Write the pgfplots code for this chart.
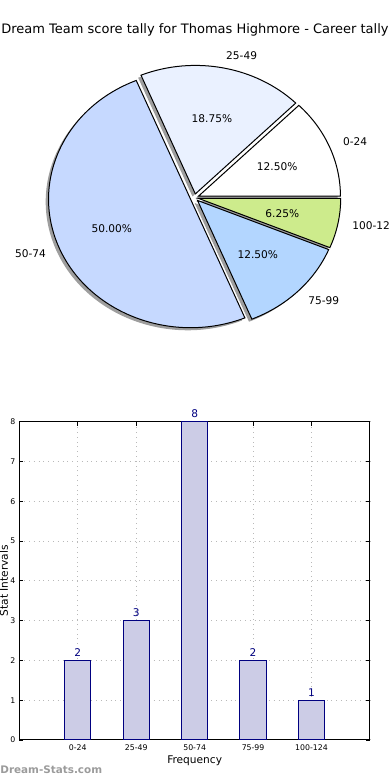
\documentclass[border=0pt]{standalone}
\usepackage{pgfplots}
\pgfplotsset{compat=1.18}
\usepackage{fontspec}
\setmainfont{DejaVu Sans}
\definecolor{sA}{RGB}{255,255,255}
\definecolor{sB}{RGB}{234,241,255}
\definecolor{sC}{RGB}{198,217,255}
\definecolor{sD}{RGB}{179,214,255}
\definecolor{sE}{RGB}{205,235,140}
\definecolor{barfill}{RGB}{204,204,230}
\definecolor{baredge}{RGB}{0,0,128}
\definecolor{wm}{RGB}{155,155,155}
\newcommand\lbl{\fontsize{5.3}{6.3}\selectfont}
\newcommand\tck{\fontsize{3.9}{4.7}\selectfont}
% pie geometry (pt): centre in pixel coords (194.5,197.7), radii 71pt x 64.25pt, explode 0.03, shadow -0.02
% slice: start count, count (of 16), colour
\newcommand\pieshadow[2]{%
  \fill[black!38, shift={(axis cs:194.5,197.7)}, shift={(-1.42pt,-1.29pt)}]
    ({2.13pt*cos(22.5*(#1+#2/2))},{1.93pt*sin(22.5*(#1+#2/2))})
    -- ++({71pt*cos(22.5*#1)},{64.25pt*sin(22.5*#1)})
    arc[start angle={22.5*#1}, end angle={22.5*(#1+#2)}, x radius=71pt, y radius=64.25pt] -- cycle;}
\newcommand\pieslice[3]{%
  \filldraw[fill=#3, draw=black, line width=0.5pt, line join=miter, shift={(axis cs:194.5,197.7)}]
    ({2.13pt*cos(22.5*(#1+#2/2))},{1.93pt*sin(22.5*(#1+#2/2))})
    -- ++({71pt*cos(22.5*#1)},{64.25pt*sin(22.5*#1)})
    arc[start angle={22.5*#1}, end angle={22.5*(#1+#2)}, x radius=71pt, y radius=64.25pt] -- cycle;}
% labels: start, count, label, pct, anchor
\newcommand\pielabel[5]{%
  \node[anchor=#5, font=\lbl, inner sep=0pt, shift={(axis cs:194.5,197.7)}]
    at ({(2.13pt+78.1pt)*cos(22.5*(#1+#2/2))},{(1.93pt+70.675pt)*sin(22.5*(#1+#2/2))}) {#3};
  \node[anchor=center, font=\lbl, inner sep=0pt, shift={(axis cs:194.5,197.7)}]
    at ({(2.13pt+42.6pt)*cos(22.5*(#1+#2/2))},{(1.93pt+38.55pt)*sin(22.5*(#1+#2/2))}) {#4};}
\begin{document}
\begin{tikzpicture}
\useasboundingbox (0,0) rectangle (195pt,390pt);
\begin{axis}[at={(0pt,0pt)}, anchor=south west, scale only axis,
  width=195pt, height=390pt, xmin=0, xmax=390, ymin=0, ymax=780,
  y dir=reverse, hide axis, clip=false]
  \addplot[draw=none] coordinates {(0,0) (390,780)};
  \node[font=\fontsize{6.5}{7.7}\selectfont, anchor=center] at (axis cs:195,30)
    {Dream Team score tally for Thomas Highmore - Career tally};
  % shadows (counts: 2,3,8,2,1 of 16)
  \pieshadow{0}{2}
  \pieshadow{2}{3}
  \pieshadow{5}{8}
  \pieshadow{13}{2}
  \pieshadow{15}{1}
  % wedges
  \pieslice{0}{2}{sA}
  \pieslice{2}{3}{sB}
  \pieslice{5}{8}{sC}
  \pieslice{13}{2}{sD}
  \pieslice{15}{1}{sE}
  \pielabel{0}{2}{0-24}{12.50\%}{west}
  \pielabel{2}{3}{25-49}{18.75\%}{west}
  \pielabel{5}{8}{50-74}{50.00\%}{east}
  \pielabel{13}{2}{75-99}{12.50\%}{west}
  \pielabel{15}{1}{100-124}{6.25\%}{west}
  \node[font=\fontsize{5.2}{6.2}\selectfont\bfseries, text=wm, anchor=west, inner sep=0pt] at (axis cs:0,770) {Dream-Stats.com};
\end{axis}
\begin{axis}[at={(9.65pt,20pt)}, anchor=south west, scale only axis,
  width=175.35pt, height=159.15pt,
  xmin=-1, xmax=5, ymin=0, ymax=8,
  xtick={0,1,2,3,4}, xticklabels={0-24,25-49,50-74,75-99,100-124},
  ytick={0,1,2,3,4,5,6,7,8},
  /pgf/number format/assume math mode=true,
  tick label style={font=\tck},
  yticklabel style={inner sep=0pt, xshift=-1.8pt},
  xticklabel style={inner sep=0pt, yshift=-2.2pt},
  tick align=inside, major tick length=2pt,
  tick style={black, line width=0.4pt},
  axis line style={line width=0.5pt},
  grid=major, grid style={dotted, gray!55, line width=0.5pt},
  xlabel={Frequency}, ylabel={Stat Intervals},
  label style={font=\lbl},
  xlabel style={at={(axis description cs:0.5,-0.066)}, anchor=center},
  ylabel style={at={(axis description cs:-0.0436,0.5)}, anchor=center},
  clip=false]
  \addplot[ybar, bar width=0.45, fill=barfill, draw=baredge, line width=0.5pt,
    nodes near coords, nodes near coords style={font=\lbl, text=baredge, inner sep=1pt, anchor=south, yshift=0.8pt}]
    coordinates {(0,2) (1,3) (2,8) (3,2) (4,1)};
\end{axis}
\end{tikzpicture}
\end{document}
